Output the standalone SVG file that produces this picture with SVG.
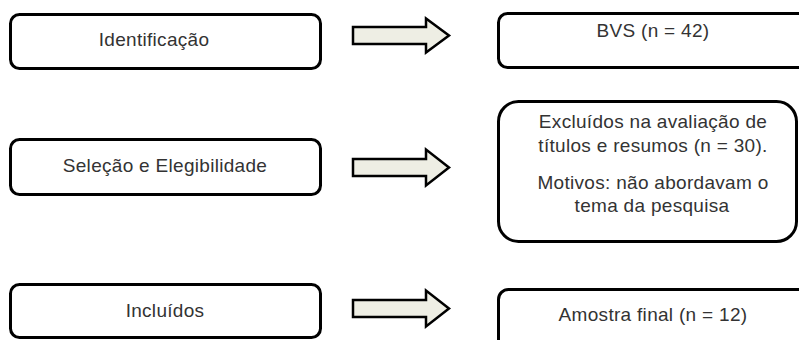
<svg xmlns="http://www.w3.org/2000/svg" width="799" height="340" viewBox="0 0 799 340">
<style>
.box{fill:#fff;stroke:#000;stroke-width:3}
.arr{fill:#eeeee4;stroke:#000;stroke-width:2.5;stroke-linejoin:miter}
text{font-family:"Liberation Sans",Arial,sans-serif;font-size:19px;letter-spacing:0.3px;fill:#333;text-anchor:middle}
</style>
<rect width="799" height="340" fill="#fff"/>
<g id="identificacao"><rect class="box" x="10.5" y="14.5" width="310" height="54" rx="9"/><text x="154" y="46">Identificação</text></g>
<g id="selecao"><rect class="box" x="10.5" y="139.5" width="310" height="55" rx="9"/><text x="165" y="172">Seleção e Elegibilidade</text></g>
<g id="incluidos"><rect class="box" x="10.5" y="284.5" width="310" height="53" rx="9"/><text x="165" y="317">Incluídos</text></g>
<g id="bvs"><rect class="box" x="498.5" y="13.5" width="320" height="54" rx="9"/><text x="653" y="37">BVS (n = 42)</text></g>
<g id="excluidos"><rect class="box" x="498.5" y="101.5" width="298" height="140" rx="20"/>
<text x="653" y="128">Excluídos na avaliação de</text>
<text x="653" y="152">títulos e resumos (n = 30).</text>
<text x="653" y="189">Motivos: não abordavam o</text>
<text x="652" y="212">tema da pesquisa</text></g>
<g id="amostra"><rect class="box" x="498.5" y="289.5" width="320" height="70" rx="10"/><text x="653" y="321">Amostra final (n = 12)</text></g>
<g id="connectors">
<polygon class="arr" points="353,27 426,27 426,18.5 449,35.5 426,52.5 426,44 353,44"/>
<polygon class="arr" points="353,159 426,159 426,149.5 449,167.5 426,185.5 426,176 353,176"/>
<polygon class="arr" points="353,300 426,300 426,290.5 449,308.5 426,326.5 426,317 353,317"/>
</g>
</svg>
